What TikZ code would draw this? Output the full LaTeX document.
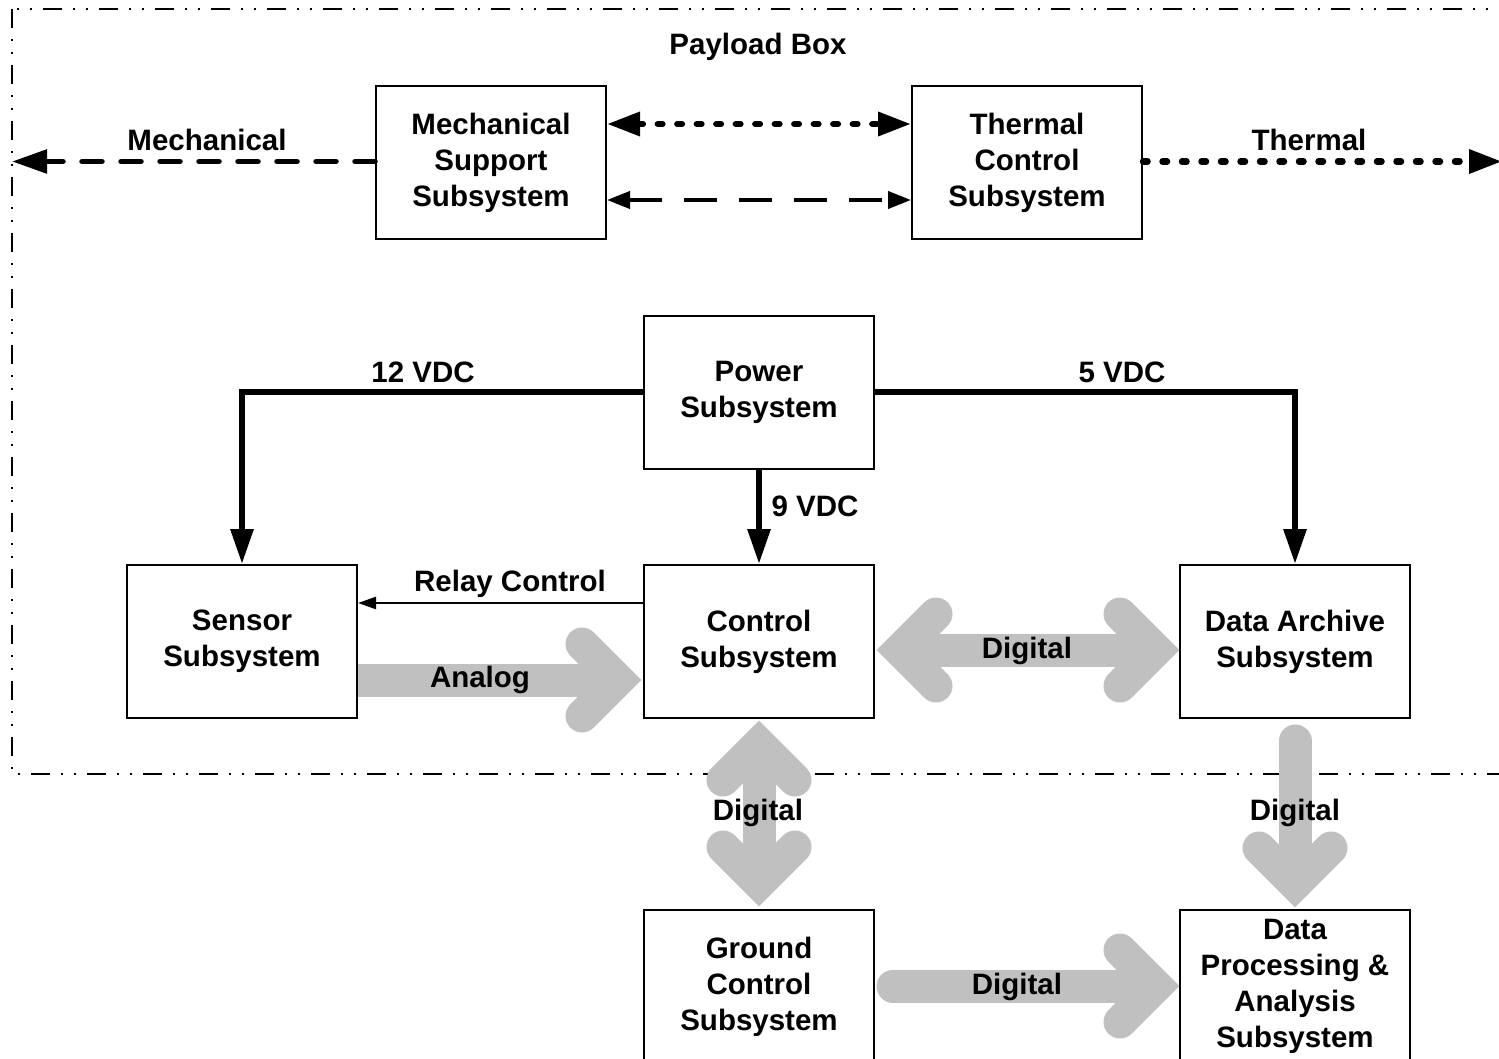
\documentclass[tikz,border=0pt]{standalone}
\usepackage{fontspec}
\setmainfont{Liberation Sans}
\usetikzlibrary{arrows.meta,calc}
\definecolor{fatgray}{RGB}{192,192,192}
\newcommand\lblfont{\bfseries\fontsize{29.5}{36}\selectfont}
\newcommand\fatheadR[1]{\draw[fathead] ($(#1)+(-58,-36)$) -- ($(#1)+(-22,0)$) -- ($(#1)+(-58,36)$);}
\newcommand\fatheadL[1]{\draw[fathead] ($(#1)+(58,-36)$) -- ($(#1)+(22,0)$) -- ($(#1)+(58,36)$);}
\newcommand\fatheadD[1]{\draw[fathead] ($(#1)+(-36,-58)$) -- ($(#1)+(0,-22)$) -- ($(#1)+(36,-58)$);}
\newcommand\fatheadU[1]{\draw[fathead] ($(#1)+(-36,58)$) -- ($(#1)+(0,22)$) -- ($(#1)+(36,58)$);}
\begin{document}
\begin{tikzpicture}[x=1pt,y=-1pt,
  box/.style={draw, line width=2pt, minimum width=230pt, minimum height=153pt, inner sep=0pt, align=center, font=\lblfont, fill=white},
  lbl/.style={font=\lblfont, inner sep=0pt},
  payload/.style={line width=2.5pt, dash pattern=on 19pt off 11pt on 2pt off 11pt on 2pt off 11pt},
  mechline/.style={line width=5.5pt, line cap=round, dash pattern=on 20pt off 19pt, -{Triangle[length=35pt,width=23pt]}},
  dotline/.style={line width=6.5pt, line cap=round, dash pattern=on 4.5pt off 15pt},
  longdash/.style={line width=4pt, dash pattern=on 33pt off 22pt, {Triangle[length=23pt,width=17pt]}-{Triangle[length=23pt,width=17pt]}},
  pw/.style={line width=6pt, -{Triangle[length=35pt,width=22pt]}},
  relay/.style={line width=2.5pt, -{Triangle[length=18pt,width=12pt]}},
  fathead/.style={draw=fatgray, line width=33pt, line cap=round, line join=miter},
  fatshaft/.style={draw=fatgray, line width=33pt, line cap=butt}
]
\useasboundingbox (0,0) rectangle (1499,1059);
\clip (0,0) rectangle (1499,1059);

% payload box
\draw[payload] (12,9) rectangle (1540,774);
\node[lbl] (plt) at (758,47) {Payload Box};

% boxes
\node[box] (mech) at (491,162.5) {Mechanical\\Support\\Subsystem};
\node[box] (therm) at (1027,162.5) {Thermal\\Control\\Subsystem};
\node[box] (pow) at (759,392.5) {Power\\Subsystem};
\node[box] (sen) at (242,641.5) {Sensor\\Subsystem};
\node[box] (ctl) at (759,641.5) {Control\\Subsystem};
\node[box] (arc) at (1295,641.5) {Data Archive\\Subsystem};
\node[box] (grd) at (759,986.5) {Ground\\Control\\Subsystem};
\node[box] (dp) at (1295,986.5) {Data\\Processing \&\\Analysis\\Subsystem};

% mechanical / thermal
\coordinate (mechend) at (12,161.5);
\coordinate (thermend) at (1502,161.5);
\draw[mechline] ($(mech.west)+(0,-1)$) -- (mechend);
\node[lbl] (lmech) at (207,140) {Mechanical};
\draw[dotline, -{Triangle[length=33pt,width=23pt]}] ($(therm.east)+(0,-1)$) -- (thermend);
\node[lbl] (ltherm) at (1309,140) {Thermal};
\draw[dotline, {Triangle[length=33pt,width=23pt]}-{Triangle[length=33pt,width=23pt]}]
  ($(mech.east)+(0,-38.5)$) -- ($(therm.west)+(0,-38.5)$);
\draw[longdash] ($(mech.east)+(0,37.5)$) -- ($(therm.west)+(0,37.5)$);

% power
\draw[pw] ($(pow.west)+(0,-1)$) -| (sen.north);
\draw[pw] ($(pow.east)+(0,-1)$) -| (arc.north);
\draw[pw] (pow.south) -- (ctl.north);
\node[lbl] (l12) at (423,372) {12 VDC};
\node[lbl] (l5) at (1122,372) {5 VDC};
\node[lbl] (l9) at (815,506) {9 VDC};

% relay control
\draw[relay] ($(ctl.west)+(0,-38.5)$) -- ($(sen.east)+(0,-38.5)$);
\node[lbl] (lrel) at (510,584) {Relay Control};

% fat gray arrows
\coordinate (anS) at ($(sen.east)+(0,38.5)$);
\coordinate (anT) at ($(ctl.west)+(-3,38.5)$);
\draw[fatshaft] (anS) -- ($(anT)+(-22,0)$);
\fatheadR{anT}

\coordinate (d1a) at ($(ctl.east)+(3,8.5)$);
\coordinate (d1b) at ($(arc.west)+(-1,8.5)$);
\draw[fatshaft] ($(d1a)+(22,0)$) -- ($(d1b)+(-22,0)$);
\fatheadL{d1a}
\fatheadR{d1b}

\coordinate (d2a) at ($(ctl.south)+(0,3)$);
\coordinate (d2b) at ($(grd.north)+(0,-4)$);
\draw[fatshaft] ($(d2a)+(0,22)$) -- ($(d2b)+(0,-22)$);
\fatheadU{d2a}
\fatheadD{d2b}

\coordinate (d3a) at ($(arc.south)+(0,22)$);
\coordinate (d3b) at ($(dp.north)+(0,-3)$);
\draw[fatshaft, line cap=round] (d3a) -- ($(d3b)+(0,-22)$);
\fatheadD{d3b}

\coordinate (d4a) at ($(grd.east)+(18,-0.5)$);
\coordinate (d4b) at ($(dp.west)+(-1,-0.5)$);
\draw[fatshaft, line cap=round] (d4a) -- ($(d4b)+(-22,0)$);
\fatheadR{d4b}

\node[lbl] (lan) at (480,680) {Analog};
\node[lbl] (ld1) at (1027,651) {Digital};
\node[lbl] (ld2) at (758,813) {Digital};
\node[lbl] (ld3) at (1295,813) {Digital};
\node[lbl] (ld4) at (1017,987) {Digital};
\end{tikzpicture}
\end{document}
